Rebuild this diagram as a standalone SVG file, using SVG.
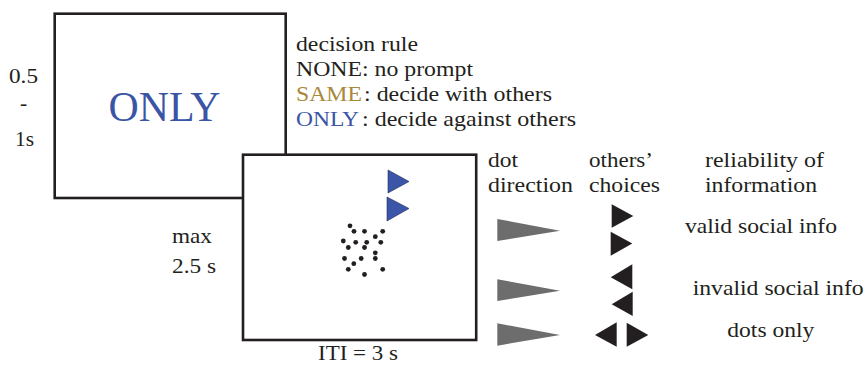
<svg xmlns="http://www.w3.org/2000/svg" width="867" height="365" viewBox="0 0 867 365">
  <style>
    text { font-family: "Liberation Serif", "Times New Roman", serif; fill: #231f20; }
    .t { font-size: 21.5px; }
    .frame { fill: #ffffff; stroke: #231f20; stroke-width: 2.6; }
    .blue { fill: #3b55a5; }
    .gold { fill: #a8893a; }
    .dot { fill: #231f20; }
    .cue { fill: #3b56a8; stroke: #1e2a55; stroke-width: 0.6; }
    .wedge { fill: #6d6d6d; }
    .choice { fill: #231f20; }
  </style>

  <!-- first screen: decision-rule prompt -->
  <g id="screen-prompt">
    <rect class="frame" x="54.7" y="13.7" width="231" height="184.3"/>
    <text class="blue" x="108.5" y="120.7" font-size="42" textLength="112" lengthAdjust="spacingAndGlyphs">ONLY</text>
  </g>
  <g id="prompt-duration">
    <text class="t" x="9" y="82.7" textLength="29" lengthAdjust="spacingAndGlyphs">0.5</text>
    <text class="t" x="23.7" y="110" text-anchor="middle">-</text>
    <text class="t" x="15" y="145.7" textLength="19" lengthAdjust="spacingAndGlyphs">1s</text>
  </g>

  <!-- decision rule legend -->
  <g id="rule-legend" class="t">
    <text x="296" y="50.7" textLength="122" lengthAdjust="spacingAndGlyphs">decision rule</text>
    <text x="296" y="76" textLength="177" lengthAdjust="spacingAndGlyphs">NONE: no prompt</text>
    <text x="296" y="101" textLength="66" lengthAdjust="spacingAndGlyphs" class="gold">SAME</text>
    <text x="364" y="101" textLength="188" lengthAdjust="spacingAndGlyphs">: decide with others</text>
    <text x="296" y="126" textLength="63" lengthAdjust="spacingAndGlyphs" class="blue">ONLY</text>
    <text x="362" y="126" textLength="214" lengthAdjust="spacingAndGlyphs">: decide against others</text>
  </g>

  <!-- second screen: random-dot stimulus with social cues -->
  <g id="screen-stimulus">
    <rect class="frame" x="243" y="154.7" width="233.2" height="185.3"/>
    <polygon class="cue" points="388,170 409,181.5 388,193"/>
    <polygon class="cue" points="387,197 409,208.5 387,221"/>
    <g id="dots">
      <circle class="dot" cx="350" cy="225.8" r="2.4"/>
      <circle class="dot" cx="354" cy="231.3" r="2.4"/>
      <circle class="dot" cx="364.5" cy="231.3" r="2.4"/>
      <circle class="dot" cx="382.7" cy="231.3" r="2.4"/>
      <circle class="dot" cx="375.3" cy="236.7" r="2.4"/>
      <circle class="dot" cx="343.3" cy="241" r="2.4"/>
      <circle class="dot" cx="355.7" cy="242.3" r="2.4"/>
      <circle class="dot" cx="366.7" cy="242.3" r="2.4"/>
      <circle class="dot" cx="380.8" cy="242.3" r="2.4"/>
      <circle class="dot" cx="348.3" cy="247.5" r="2.4"/>
      <circle class="dot" cx="364.5" cy="247.5" r="2.4"/>
      <circle class="dot" cx="375.3" cy="252.8" r="2.4"/>
      <circle class="dot" cx="344.5" cy="258.5" r="2.4"/>
      <circle class="dot" cx="361.2" cy="258.5" r="2.4"/>
      <circle class="dot" cx="375.3" cy="258.5" r="2.4"/>
      <circle class="dot" cx="353.8" cy="263.7" r="2.4"/>
      <circle class="dot" cx="348.3" cy="269.3" r="2.4"/>
      <circle class="dot" cx="382.7" cy="269.3" r="2.4"/>
      <circle class="dot" cx="364.5" cy="274.5" r="2.4"/>
    </g>
  </g>
  <g id="stimulus-duration">
    <text class="t" x="172" y="243" textLength="40" lengthAdjust="spacingAndGlyphs">max</text>
    <text class="t" x="172" y="273" textLength="44" lengthAdjust="spacingAndGlyphs">2.5 s</text>
  </g>
  <g id="iti">
    <text class="t" x="318" y="360" textLength="80" lengthAdjust="spacingAndGlyphs">ITI = 3 s</text>
  </g>

  <!-- condition table headers -->
  <g id="headers" class="t">
    <text x="488" y="167" textLength="30" lengthAdjust="spacingAndGlyphs">dot</text>
    <text x="488" y="192" textLength="85" lengthAdjust="spacingAndGlyphs">direction</text>
    <text x="589" y="167" textLength="64" lengthAdjust="spacingAndGlyphs">others’</text>
    <text x="589" y="192" textLength="71" lengthAdjust="spacingAndGlyphs">choices</text>
    <text x="705" y="167" textLength="119" lengthAdjust="spacingAndGlyphs">reliability of</text>
    <text x="705" y="192" textLength="112" lengthAdjust="spacingAndGlyphs">information</text>
  </g>

  <!-- condition: valid social info -->
  <g id="cond-valid">
    <polygon class="wedge" points="497.3,219 560,230.7 497.3,241"/>
    <polygon class="choice" points="611.7,204.3 633.3,216 611.7,227.7"/>
    <polygon class="choice" points="610.7,231.7 632.3,243.5 610.7,255.7"/>
    <text class="t" x="685" y="233.3" textLength="152" lengthAdjust="spacingAndGlyphs">valid social info</text>
  </g>

  <!-- condition: invalid social info -->
  <g id="cond-invalid">
    <polygon class="wedge" points="497.3,279.3 560,290.7 497.3,301"/>
    <polygon class="choice" points="632.3,264.3 610.7,277.3 632.3,289.3"/>
    <polygon class="choice" points="632.7,291.7 611.7,304.3 632.7,316"/>
    <text class="t" x="692.7" y="295" textLength="171" lengthAdjust="spacingAndGlyphs">invalid social info</text>
  </g>

  <!-- condition: dots only -->
  <g id="cond-dots">
    <polygon class="wedge" points="497.3,323.3 560,335 497.3,345.7"/>
    <polygon class="choice" points="616.7,322.3 595,335 616.7,346.7"/>
    <polygon class="choice" points="626.7,322.7 648.3,335 626.7,346.7"/>
    <text class="t" x="727.3" y="336.7" textLength="87" lengthAdjust="spacingAndGlyphs">dots only</text>
  </g>
</svg>
